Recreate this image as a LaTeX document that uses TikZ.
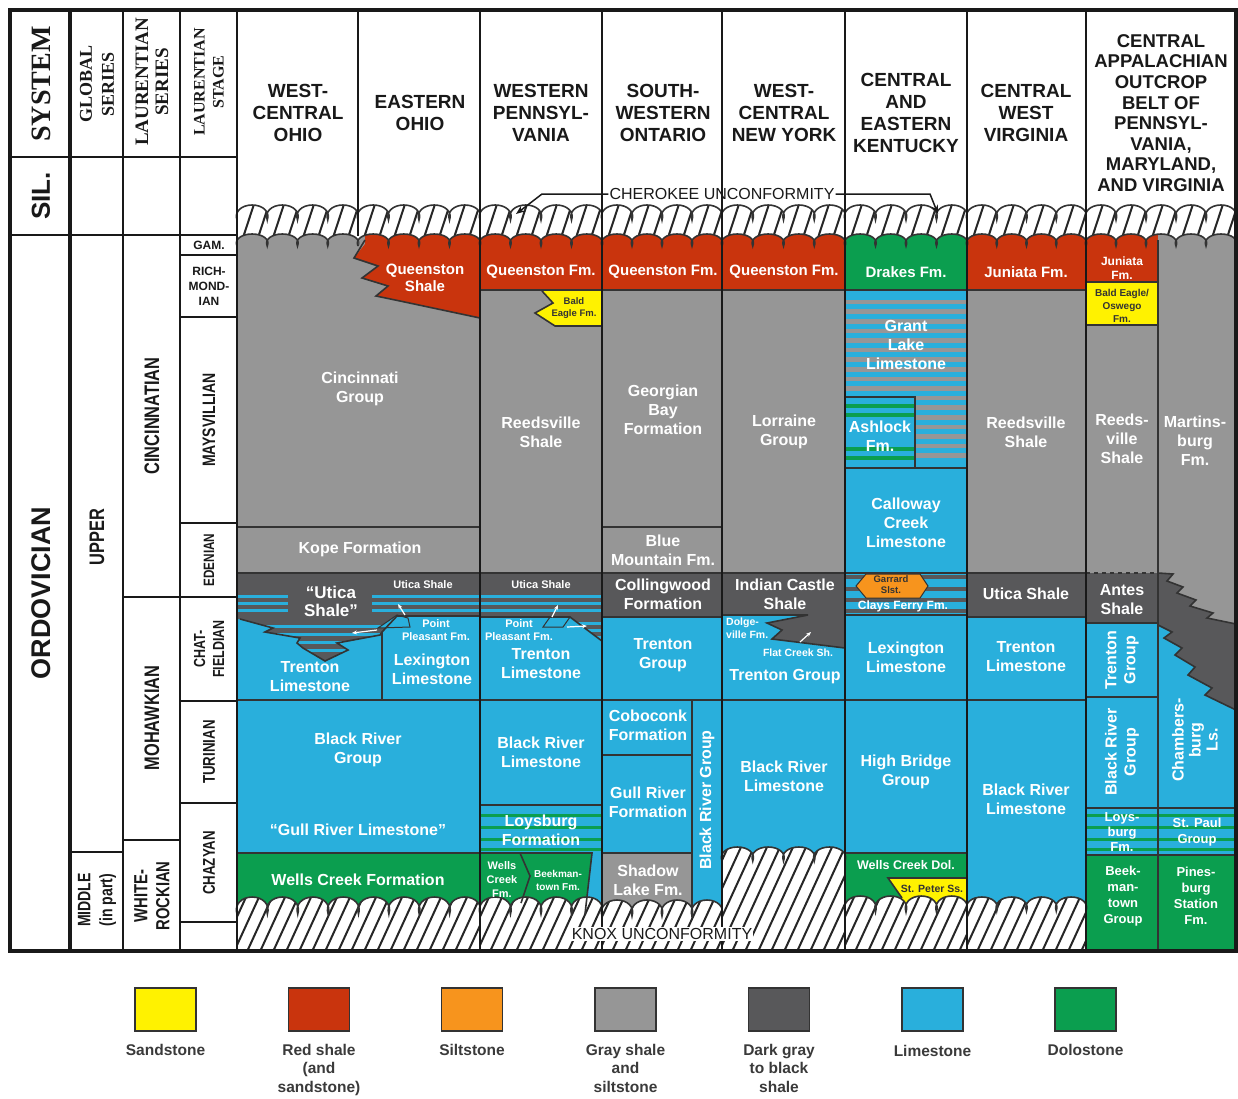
\documentclass[tikz,border=0pt]{standalone}
\usepackage{fontspec}
\setmainfont{Liberation Sans}
\newfontfamily\tnr{Liberation Serif}
\newfontfamily\nrw{Liberation Sans}[FakeStretch=0.78]
\usetikzlibrary{arrows.meta}
\definecolor{ssY}{HTML}{FFF200}
\definecolor{rsR}{HTML}{C9340D}
\definecolor{slO}{HTML}{F7941D}
\definecolor{gsG}{HTML}{969696}
\definecolor{dgD}{HTML}{58585A}
\definecolor{lsB}{HTML}{29AFDC}
\definecolor{dlG}{HTML}{0B9E4F}
\definecolor{lnC}{HTML}{333333}
\definecolor{txC}{HTML}{3A3A3A}
\newcommand\wv[5]{\foreach \k in {1,...,#3}{ .. controls ({#1+(\k-1.1)*(#2-#1)/#3},{#5+0.45*(#4-#5)}) and ({#1+(\k-0.85)*(#2-#1)/#3},#5) .. ({#1+(\k-0.5)*(#2-#1)/#3},#5) .. controls ({#1+(\k-0.15)*(#2-#1)/#3},#5) and ({#1+(\k+0.1)*(#2-#1)/#3},{#5+0.45*(#4-#5)}) .. ({#1+\k*(#2-#1)/#3},#4)}}
\newcommand\cband[3]{%
 \begin{scope}
  \clip (#1,220) \wv{#1}{#2}{#3}{220}{205} -- (#2,246) \wv{#2}{#1}{#3}{246}{234} -- cycle;
  \fill[white] (#1,195) rectangle (#2,252);
  \foreach \h in {-30,-15,...,150} \draw[hline] ({#1+\h},256) -- ++(19,-58);
 \end{scope}
 \draw[bnd] (#1,220) \wv{#1}{#2}{#3}{220}{205};
 \draw[bnd] (#2,246) \wv{#2}{#1}{#3}{246}{234};}
\newcommand\kband[5]{%
 \begin{scope}
  \clip (#1,#4) \wv{#1}{#2}{#3}{#4}{#5} -- (#2,950) -- (#1,950) -- cycle;
  \fill[white] ({#1},{#5-8}) rectangle (#2,950);
  \foreach \h in {-70,-57,...,250} \draw[hline] ({#1+\h},956) -- ++(56,-122);
 \end{scope}
 \draw[bnd] (#1,#4) \wv{#1}{#2}{#3}{#4}{#5};}
\begin{document}
\begin{tikzpicture}[x=1pt,y=-1pt,
 bnd/.style={draw=lnC,line width=1.6pt},
 frm/.style={draw=black!90,line width=1.8pt},
 hline/.style={draw=black!85,line width=2pt},
 lab/.style={text=white,font=\bfseries\fontsize{16}{19}\selectfont,align=center,inner sep=0pt},
 sm/.style={text=white,font=\bfseries\fontsize{11}{13.5}\selectfont,align=center,inner sep=0pt},
 dk/.style={text=black!80,font=\bfseries\fontsize{9.5}{12.5}\selectfont,align=center,inner sep=0pt},
 hdr/.style={text=black!90,font=\bfseries\fontsize{19}{22}\selectfont,align=center,inner sep=0pt},
 lft/.style={text=black!90,font=\nrw\bfseries\fontsize{21}{22}\selectfont,align=center,inner sep=0pt,rotate=90},
 stg/.style={text=black!90,font=\bfseries\fontsize{12}{15}\selectfont,align=center,inner sep=0pt},
 warr/.style={draw=white,line width=1.2pt,-{Stealth[length=5pt,width=4pt]}},
 barr/.style={draw=black!90,line width=1.5pt,-{Stealth[length=9pt,width=7pt]}},
 stripeB/.style={draw=lsB,line width=3pt},
 stripeG/.style={draw=dlG,line width=3pt},
 legbox/.style={draw=lnC,line width=1.3pt,minimum width=61pt,minimum height=43pt,inner sep=0pt},
 legt/.style={text=txC,font=\bfseries\fontsize{15.5}{18.5}\selectfont,align=center,inner sep=0pt,anchor=north}]
\useasboundingbox (0,0) rectangle (1238,1098);
\fill[white] (0,0) rectangle (1238,1098);

% ================= COLUMNS 1-2 (Ohio)
\fill[gsG] (237,230) rectangle (480,573);
\fill[rsR] (365,230) -- (365,244) -- (354,258) -- (378,266) -- (362,278) -- (388,286) -- (376,296) -- (400,301) -- (480,318) -- (480,230) -- cycle;
\fill[lsB] (237,605) rectangle (480,853);
\fill[dgD] (237,573) -- (480,573) -- (480,616) -- (397,616) -- (382,632) -- (380,635) -- (337,643) -- (348,650) -- (325,661) -- (303,648) -- (297,643) -- (300,638) -- (265,632) -- (273,628) -- (240,619) -- (237,619) -- cycle;
\foreach \y in {596,603,610} {\draw[stripeB] (237,\y) -- (288,\y); \draw[stripeB] (372,\y) -- (480,\y);}
\begin{scope}
 \clip (240,619) -- (273,628) -- (265,632) -- (300,638) -- (297,643) -- (303,648) -- (325,661) -- (348,650) -- (337,643) -- (380,635) -- (382,632) -- (397,616) -- (237,616) -- cycle;
 \foreach \y in {626,634,642,650} \draw[stripeB] (237,\y) -- (400,\y);
\end{scope}
\fill[lsB,draw=lnC,line width=1pt] (378,628) -- (397,615) -- (408,618) -- (410,627) -- cycle;
\fill[dlG] (237,853) rectangle (480,916);

% ================= COLUMN 3 (W Pennsylvania)
\fill[rsR] (480,230) rectangle (602,290);
\fill[gsG] (480,290) rectangle (602,573);
\fill[ssY] (542,291) -- (602,291) -- (602,326) -- (555,326) -- (535,313) -- (553,303) -- cycle;
\fill[dgD] (480,573) rectangle (602,617);
\fill[lsB] (480,617) rectangle (602,916);
\fill[dgD] (570,617) -- (602,617) -- (602,641) -- cycle;
\foreach \y in {596,603,610} \draw[stripeB] (480,\y) -- (602,\y);
\begin{scope}
 \clip (570,617) -- (602,617) -- (602,641) -- cycle;
 \foreach \y in {623,630,637} \draw[stripeB] (565,\y) -- (602,\y);
\end{scope}
\fill[lsB,draw=lnC,line width=1pt] (543,627) -- (550,617) -- (570,617) -- (563,627) -- cycle;
\foreach \y in {815,827,839,849} \draw[stripeG] (480,\y) -- (602,\y);
\fill[dlG] (480,853) -- (592,853) -- (585,916) -- (480,916) -- cycle;

% ================= COLUMN 4 (SW Ontario)
\fill[rsR] (602,230) rectangle (722,290);
\fill[gsG] (602,290) rectangle (722,573);
\fill[dgD] (602,573) rectangle (722,617);
\fill[lsB] (602,617) rectangle (722,918);
\fill[gsG] (602,853) rectangle (692,918);

% ================= COLUMN 5 (WC New York)
\fill[rsR] (722,230) rectangle (845,290);
\fill[gsG] (722,290) rectangle (845,573);
\fill[lsB] (722,600) rectangle (845,862);
\fill[dgD] (722,573) -- (845,573) -- (845,648) -- (772,639) -- (782,630) -- (767,623) -- (808,615) -- (722,615) -- cycle;

% ================= COLUMN 6 (Kentucky)
\fill[dlG] (845,230) rectangle (967,290);
\fill[lsB] (845,290) rectangle (967,853);
\foreach \y in {302,311.6,...,458} \fill[gsG] (845,{\y-2.3}) rectangle (967,{\y+2.3});
\fill[lsB] (845,397) rectangle (915,468);
\foreach \y in {406,415,449,458} \fill[dlG] (845,{\y-2}) rectangle (915,{\y+2});
\fill[lsB] (845,468) rectangle (967,573);
\foreach \y in {577,589,600,611} \fill[dgD] (845,{\y-2}) rectangle (967,{\y+2});
\fill[slO,draw=lnC,line width=1pt] (866,574) -- (920,574) -- (928,586) -- (920,598) -- (866,598) -- (856,586) -- cycle;
\fill[dlG] (845,853) rectangle (967,914);
\fill[ssY] (888,878) -- (967,878) -- (967,914) -- (902,914) -- (902,898) -- cycle;

% ================= COLUMN 7 (C West Virginia)
\fill[rsR] (967,230) rectangle (1086,290);
\fill[gsG] (967,290) rectangle (1086,573);
\fill[dgD] (967,573) rectangle (1086,617);
\fill[lsB] (967,617) rectangle (1086,913);

% ================= COLUMN 8 (C Appalachian)
\fill[rsR] (1086,230) rectangle (1158,282);
\fill[ssY] (1086,282) rectangle (1158,325);
\fill[gsG] (1086,325) rectangle (1158,573);
\fill[dgD] (1086,573) rectangle (1158,623);
\fill[lsB] (1086,623) rectangle (1158,855);
\fill[gsG] (1158,230) rectangle (1236,808);
\fill[dgD] (1158,573) -- (1173,574) -- (1167,581) -- (1183,587) -- (1177,593) -- (1196,600) -- (1190,606) -- (1213,613) -- (1207,618) -- (1236,624) -- (1236,710) -- (1205,695) -- (1212,688) -- (1188,675) -- (1195,667) -- (1175,655) -- (1182,648) -- (1164,638) -- (1172,632) -- (1158,625) -- cycle;
\fill[lsB] (1158,625) -- (1172,632) -- (1164,638) -- (1182,648) -- (1175,655) -- (1195,667) -- (1188,675) -- (1212,688) -- (1205,695) -- (1236,710) -- (1236,855) -- (1158,855) -- cycle;
\foreach \y in {815,827,839,849} \draw[stripeG] (1086,\y) -- (1236,\y);
\fill[dlG] (1086,855) rectangle (1236,950);

% ================= unconformity bands
\cband{237}{358}{4}
\cband{358}{480}{4}
\cband{480}{602}{4}
\cband{602}{722}{4}
\cband{722}{845}{4}
\cband{845}{967}{4}
\cband{967}{1086}{4}
\cband{1086}{1236}{5}
\kband{237}{480}{8}{914}{897}
\kband{480}{602}{4}{914}{897}
\kband{602}{722}{4}{916}{900}
\kband{722}{845}{4}{861}{847}
\kband{845}{967}{4}{912}{896}
\kband{967}{1086}{4}{911}{897}

% ================= boundary lines
\draw[bnd] (365,240) -- (354,258) -- (378,266) -- (362,278) -- (388,286) -- (376,296) -- (400,301) -- (480,318);
\draw[bnd] (237,527) -- (480,527) (602,527) -- (722,527);
\draw[bnd] (237,573) -- (1086,573);
\draw[bnd,dashed,dash pattern=on 4pt off 4pt] (1086,573) -- (1158,573);
\draw[bnd] (480,290) -- (1086,290);
\draw[bnd] (240,619) -- (273,628) -- (265,632) -- (300,638) -- (297,643) -- (303,648) -- (325,661) -- (348,650) -- (337,643) -- (380,635) -- (382,632) -- (397,616) -- (480,616);
\draw[bnd] (382,632) -- (382,700);
\draw[bnd] (237,700) -- (1086,700);
\draw[bnd] (237,853) -- (480,853);
% col 3
\draw[bnd] (542,291) -- (553,303) -- (535,313) -- (555,326) -- (602,326);
\draw[bnd] (480,617) -- (570,617) -- (602,641);
\draw[bnd] (480,805) -- (602,805);
\draw[bnd] (480,853) -- (592,853) -- (585,914);
\draw[bnd] (520,853) -- (530,876) -- (521,903);
% col 4
\draw[bnd] (602,617) -- (722,617);
\draw[bnd] (602,755) -- (692,755) (602,853) -- (692,853);
\draw[bnd] (692,700) -- (692,917);
% col 5
\draw[bnd] (722,615) -- (808,615) -- (767,623) -- (782,630) -- (772,639) -- (845,648);
% col 6
\draw[bnd] (845,397) -- (915,397) -- (915,468);
\draw[bnd] (845,468) -- (967,468) (845,615) -- (967,615) (845,853) -- (967,853);
\draw[bnd] (902,898) -- (888,878) -- (967,878);
% col 7
\draw[bnd] (967,617) -- (1086,617);
% col 8
\draw[bnd] (1086,282) -- (1158,282) (1086,325) -- (1158,325);
\draw[bnd] (1086,623) -- (1158,623) (1086,697) -- (1158,697);
\draw[bnd] (1086,808) -- (1236,808) (1086,855) -- (1236,855);
\draw[bnd] (1158,573) -- (1173,574) -- (1167,581) -- (1183,587) -- (1177,593) -- (1196,600) -- (1190,606) -- (1213,613) -- (1207,618) -- (1236,624);
\draw[bnd] (1158,625) -- (1172,632) -- (1164,638) -- (1182,648) -- (1175,655) -- (1195,667) -- (1188,675) -- (1212,688) -- (1205,695) -- (1236,710);
\draw[bnd] (1158,240) -- (1158,950);

% ================= frame and column lines
\foreach \x in {480,602,722,845,967,1086} \draw[frm] (\x,10) -- (\x,950);
\draw[frm] (358,10) -- (358,236);
\draw[frm] (70,10) -- (70,950) (123,10) -- (123,950) (180,10) -- (180,950) (237,10) -- (237,950);
\draw[frm] (10,157) -- (237,157) (10,235) -- (237,235);
\draw[frm] (180,255) -- (237,255) (180,317) -- (237,317) (180,523) -- (237,523) (180,597) -- (237,597) (180,701) -- (237,701) (180,803) -- (237,803) (180,922) -- (237,922);
\draw[frm] (123,597) -- (180,597) (123,840) -- (180,840);
\draw[frm] (70,852) -- (123,852);
\draw[draw=black!90,line width=3.5pt] (10,10) rectangle (1236,951);
\draw[draw=black!90,line width=3.5pt] (70,10) -- (70,951);

% ================= header texts
\node[rotate=90,text=black!90,font=\tnr\bfseries\fontsize{28}{30}\selectfont,inner sep=0pt] (hSys) at (41,84) {SYSTEM};
\node[rotate=90,text=black!90,font=\bfseries\fontsize{26}{28}\selectfont,inner sep=0pt] (hSil) at (41,196) {SIL.};
\node[rotate=90,text=black!90,align=center,font=\tnr\bfseries\fontsize{18}{22}\selectfont,inner sep=0pt] (hGlob) at (97,84) {GLOBAL\\SERIES};
\node[rotate=90,text=black!90,align=center,font=\tnr\bfseries\fontsize{19}{20}\selectfont,inner sep=0pt] (hLser) at (152,82) {LAURENTIAN\\SERIES};
\node[rotate=90,text=black!90,align=center,font=\tnr\bfseries\fontsize{16}{19}\selectfont,inner sep=0pt] (hLstg) at (209,82) {LAURENTIAN\\STAGE};
\node[rotate=90,text=black!90,font=\bfseries\fontsize{27}{29}\selectfont,inner sep=0pt] (hOrd) at (41,593) {ORDOVICIAN};
\node[lft] (hUp) at (97,537) {UPPER};
\node[lft,font=\nrw\bfseries\fontsize{18}{22}\selectfont] (hMid) at (97,900) {MIDDLE\\(in part)};
\node[lft] (hCin) at (152,416) {CINCINNATIAN};
\node[lft] (hMoh) at (152,718) {MOHAWKIAN};
\node[lft,font=\nrw\bfseries\fontsize{19}{22}\selectfont] (hWR) at (152,896) {WHITE-\\ROCKIAN};
\node[stg] (sGam) at (209,245) {GAM.};
\node[stg] (sRich) at (209,286) {RICH-\\MOND-\\IAN};
\node[lft,font=\nrw\bfseries\fontsize{18}{20}\selectfont] (sMay) at (209,420) {MAYSVILLIAN};
\node[lft,font=\nrw\bfseries\fontsize{15}{20}\selectfont] (sEde) at (209,560) {EDENIAN};
\node[lft,font=\nrw\bfseries\fontsize{16}{19}\selectfont] (sCha) at (209,649) {CHAT-\\FIELDIAN};
\node[lft,font=\nrw\bfseries\fontsize{17}{20}\selectfont] (sTur) at (209,752) {TURINIAN};
\node[lft,font=\nrw\bfseries\fontsize{17}{20}\selectfont] (sChz) at (209,863) {CHAZYAN};

\node[hdr] (c1) at (298,113) {WEST-\\CENTRAL\\OHIO};
\node[hdr] (c2) at (420,113) {EASTERN\\OHIO};
\node[hdr] (c3) at (541,113) {WESTERN\\PENNSYL-\\VANIA};
\node[hdr] (c4) at (663,113) {SOUTH-\\WESTERN\\ONTARIO};
\node[hdr] (c5) at (784,113) {WEST-\\CENTRAL\\NEW YORK};
\node[hdr] (c6) at (906,113) {CENTRAL\\AND\\EASTERN\\KENTUCKY};
\node[hdr] (c7) at (1026,113) {CENTRAL\\WEST\\VIRGINIA};
\node[hdr,font=\bfseries\fontsize{18.5}{20.6}\selectfont] (c8) at (1161,113) {CENTRAL\\APPALACHIAN\\OUTCROP\\BELT OF\\PENNSYL-\\VANIA,\\MARYLAND,\\AND VIRGINIA};

% unconformity labels and arrows
\node[text=black!90,font=\fontsize{16}{18}\selectfont,inner sep=1pt] (cher) at (722,194) {CHEROKEE UNCONFORMITY};
\coordinate (chA) at (516,214);
\coordinate (chB) at (938,214);
\draw[barr] (cher.west) -- (542,194) -- (chA);
\draw[barr] (cher.east) -- (930,194) -- (chB);
\node[fill=white,text=black!90,font=\fontsize{16}{18}\selectfont,inner sep=1pt] (knox) at (662,934) {KNOX UNCONFORMITY};

% ================= formation labels
% cols 1-2
\node[lab] (f1) at (360,389) {Cincinnati\\Group};
\node[lab,font=\bfseries\fontsize{15}{17}\selectfont] (f2) at (425,278) {Queenston\\Shale};
\node[lab] (f3) at (360,549) {Kope Formation};
\node[lab,font=\bfseries\fontsize{17}{18}\selectfont] (f4) at (331,601) {“Utica\\Shale”};
\node[sm] (f5) at (423,585) {Utica Shale};
\node[sm] (f6) at (436,630) {Point\\Pleasant Fm.};
\node[lab] (f7) at (432,669) {Lexington\\Limestone};
\node[lab] (f8) at (310,677) {Trenton\\Limestone};
\node[lab] (f9) at (358,750) {Black River\\Group};
\node[lab] (f10) at (358,830) {“Gull River Limestone”};
\node[lab] (f11) at (358,880) {Wells Creek Formation};
\coordinate (w1a) at (405,615); \coordinate (w1b) at (398,604);
\coordinate (w2a) at (377,630); \coordinate (w2b) at (352,633);
\draw[warr] (w1a) -- (w1b);
\draw[warr] (w2a) -- (w2b);
% col 3
\node[lab,font=\bfseries\fontsize{15}{18}\selectfont] (g1) at (541,272) {Queenston Fm.};
\node[dk] (g2) at (574,308) {Bald\\Eagle Fm.};
\node[lab] (g3) at (541,432) {Reedsville\\Shale};
\node[sm] (g4) at (541,585) {Utica Shale};
\node[sm] (g5) at (519,630) {Point\\Pleasant Fm.};
\node[lab] (g6) at (541,664) {Trenton\\Limestone};
\node[lab] (g7) at (541,752) {Black River\\Limestone};
\node[lab] (g8) at (541,830) {Loysburg\\Formation};
\node[sm,font=\bfseries\fontsize{11}{14}\selectfont] (g9) at (502,879) {Wells\\Creek\\Fm.};
\node[sm,font=\bfseries\fontsize{10}{13}\selectfont] (g10) at (558,880) {Beekman-\\town Fm.};
\coordinate (w3a) at (552,617); \coordinate (w3b) at (558,605);
\coordinate (w4a) at (567,627); \coordinate (w4b) at (587,626);
\draw[warr] (w3a) -- (w3b);
\draw[warr] (w4a) -- (w4b);
% col 4
\node[lab,font=\bfseries\fontsize{15}{18}\selectfont] (h1) at (663,272) {Queenston Fm.};
\node[lab] (h2) at (663,410) {Georgian\\Bay\\Formation};
\node[lab] (h3) at (663,550) {Blue\\Mountain Fm.};
\node[lab] (h4) at (663,594) {Collingwood\\Formation};
\node[lab] (h5) at (663,655) {Trenton\\Group};
\node[lab] (h6) at (648,725) {Coboconk\\Formation};
\node[lab] (h7) at (648,802) {Gull River\\Formation};
\node[lab] (h8) at (648,880) {Shadow\\Lake Fm.};
\node[lab,rotate=90] (h9) at (707,800) {Black River Group};
% col 5
\node[lab,font=\bfseries\fontsize{15}{18}\selectfont] (i1) at (784,272) {Queenston Fm.};
\node[lab] (i2) at (784,432) {Lorraine\\Group};
\node[lab] (i3) at (785,594) {Indian Castle\\Shale};
\node[sm,font=\bfseries\fontsize{10.5}{13}\selectfont,align=left,anchor=west] (i4) at (726,628) {Dolge-\\ville Fm.};
\node[sm,font=\bfseries\fontsize{10.5}{13}\selectfont] (i5) at (798,653) {Flat Creek Sh.};
\node[lab] (i6) at (785,677) {Trenton Group};
\node[lab] (i7) at (784,776) {Black River\\Limestone};
\coordinate (w5a) at (800,642); \coordinate (w5b) at (811,632);
\draw[warr] (w5a) -- (w5b);
% col 6
\node[lab,font=\bfseries\fontsize{15}{18}\selectfont] (j1) at (906,272) {Drakes Fm.};
\node[lab] (j2) at (906,345) {Grant\\Lake\\Limestone};
\node[lab] (j3) at (880,436) {Ashlock\\Fm.};
\node[lab] (j4) at (906,523) {Calloway\\Creek\\Limestone};
\node[dk,font=\bfseries\fontsize{9.5}{11}\selectfont] (j5) at (891,585) {Garrard\\Slst.};
\node[sm,font=\bfseries\fontsize{12}{14}\selectfont] (j6) at (903,606) {Clays Ferry Fm.};
\node[lab] (j7) at (906,657) {Lexington\\Limestone};
\node[lab] (j8) at (906,772) {High Bridge\\Group};
\node[sm,font=\bfseries\fontsize{12.5}{14}\selectfont] (j9) at (906,865) {Wells Creek Dol.};
\node[dk,font=\bfseries\fontsize{10.5}{12}\selectfont] (j10) at (932,889) {St. Peter Ss.};
% col 7
\node[lab,font=\bfseries\fontsize{15}{18}\selectfont] (k1) at (1026,272) {Juniata Fm.};
\node[lab] (k2) at (1026,432) {Reedsville\\Shale};
\node[lab] (k3) at (1026,594) {Utica Shale};
\node[lab] (k4) at (1026,657) {Trenton\\Limestone};
\node[lab] (k5) at (1026,799) {Black River\\Limestone};
% col 8
\node[sm,font=\bfseries\fontsize{12}{14}\selectfont] (m1) at (1122,268) {Juniata\\Fm.};
\node[dk,font=\bfseries\fontsize{10}{13}\selectfont] (m2) at (1122,306) {Bald Eagle/\\Oswego\\Fm.};
\node[lab] (m3) at (1122,439) {Reeds-\\ville\\Shale};
\node[lab] (m4) at (1195,441) {Martins-\\burg\\Fm.};
\node[lab] (m5) at (1122,600) {Antes\\Shale};
\node[lab,rotate=90] (m6) at (1122,660) {Trenton\\Group};
\node[lab,rotate=90] (m7) at (1122,752) {Black River\\Group};
\node[lab,rotate=90,font=\bfseries\fontsize{16}{17}\selectfont] (m8) at (1195,740) {Chambers-\\burg\\Ls.};
\node[lab,font=\bfseries\fontsize{13}{15}\selectfont] (m9) at (1122,832) {Loys-\\burg\\Fm.};
\node[lab,font=\bfseries\fontsize{13}{16}\selectfont] (m10) at (1197,832) {St. Paul\\Group};
\node[lab,font=\bfseries\fontsize{13}{16}\selectfont] (m11) at (1123,896) {Beek-\\man-\\town\\Group};
\node[lab,font=\bfseries\fontsize{13}{16}\selectfont] (m12) at (1196,896) {Pines-\\burg\\Station\\Fm.};

% ================= legend
\node[legbox,fill=ssY] (lgA) at (165.5,1009.5) {};
\node[legbox,fill=rsR] (lgB) at (319,1009.5) {};
\node[legbox,fill=slO] (lgC) at (472,1009.5) {};
\node[legbox,fill=gsG] (lgD) at (625.5,1009.5) {};
\node[legbox,fill=dgD] (lgE) at (779,1009.5) {};
\node[legbox,fill=lsB] (lgF) at (932.5,1009.5) {};
\node[legbox,fill=dlG] (lgG) at (1085.5,1009.5) {};
\node[legt] (ltA) at (165.5,1044) {Sandstone};
\node[legt] (ltB) at (319,1044) {Red shale\\(and\\sandstone)};
\node[legt] (ltC) at (472,1044) {Siltstone};
\node[legt] (ltD) at (625.5,1044) {Gray shale\\and\\siltstone};
\node[legt] (ltE) at (779,1044) {Dark gray\\to black\\shale};
\node[legt] (ltF) at (932.5,1045) {Limestone};
\node[legt] (ltG) at (1085.5,1044) {Dolostone};
\end{tikzpicture}
\end{document}
